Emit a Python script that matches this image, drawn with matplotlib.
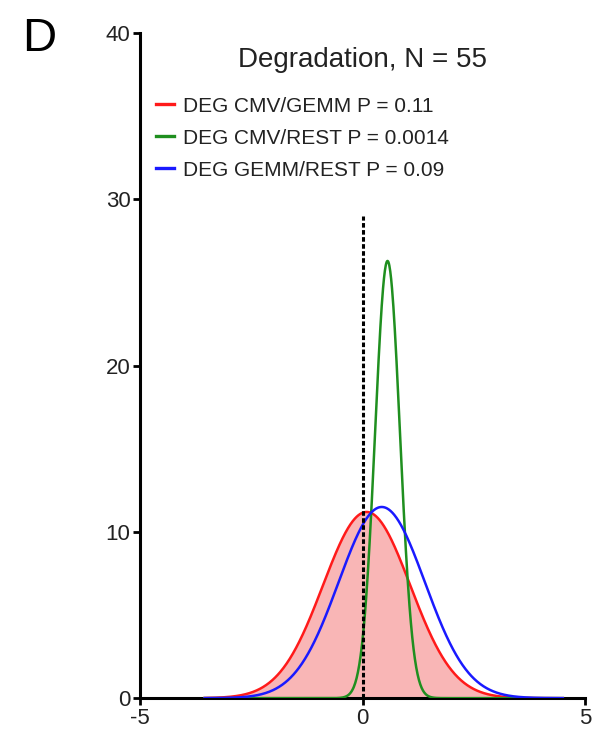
import numpy as np
import matplotlib.pyplot as plt

plt.rcParams['font.family'] = ['Liberation Sans', 'DejaVu Sans']
plt.rcParams['axes.unicode_minus'] = False

# fitted normal curves: label, colour, centre, sd, peak height
labels = ['DEG CMV/GEMM P = 0.11', 'DEG CMV/REST P = 0.0014', 'DEG GEMM/REST P = 0.09']
colors = ['#ff1a1a', '#1f8f1f', '#1a1aff']
centres = [0.09, 0.56, 0.43]
sds = [0.98, 0.28, 0.97]
peaks = [11.2, 26.3, 11.5]
x_range = [-3.55, 4.5]

fig = plt.figure(figsize=(6.12, 7.38), dpi=100)
ax = fig.add_axes([0.229, 0.054, 0.727, 0.901])

x = np.linspace(x_range[0], x_range[1], 800)
for i in range(len(labels)):
    y = peaks[i] * np.exp(-0.5 * ((x - centres[i]) / sds[i]) ** 2)
    if i == 0:
        ax.fill_between(x, 0, y, color='#f9b6b6', lw=0, zorder=1)
    ax.plot(x, y, color=colors[i], lw=1.8, label=labels[i], zorder=3)

ax.plot([0, 0], [0, 29], color='black', ls=(0, (1.5, 0.8)), lw=2.2, zorder=4)

ax.set_xlim(-5, 5)
ax.set_ylim(0, 40)
ax.set_xticks([-5, 0, 5])
ax.set_yticks([0, 10, 20, 30, 40])
ax.spines['top'].set_visible(False)
ax.spines['right'].set_visible(False)
for s in ['left', 'bottom']:
    ax.spines[s].set_linewidth(2.2)
ax.tick_params(width=2, length=5, labelsize=16, pad=2, labelcolor='#222222')

fig.text(0.592, 0.909, 'Degradation, N = 55', ha='center', va='baseline',
         fontsize=20, color='#222222')
leg = ax.legend(loc='upper left', bbox_to_anchor=(0.016, 0.917), frameon=False,
                fontsize=15, handlelength=0.87, handletextpad=0.45,
                labelspacing=0.62, borderpad=0.4, borderaxespad=0)
for t in leg.get_texts():
    t.set_color('#222222')
for h in leg.legend_handles:
    h.set_linewidth(2.4)

fig.text(0.064, 0.947, 'D', fontsize=34, ha='center', va='center')

fig.savefig('out.png')
